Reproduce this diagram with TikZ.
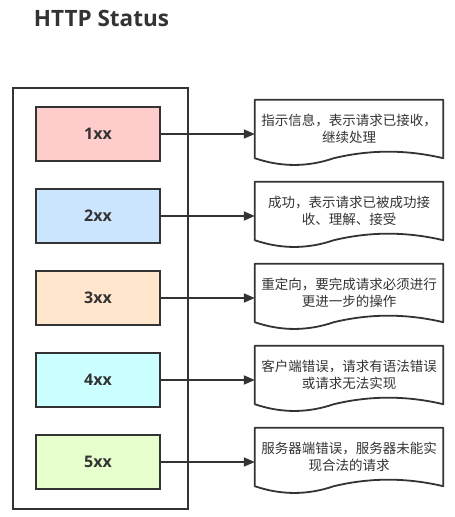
\documentclass[tikz,border=0pt]{standalone}
\usepackage{fontspec}
\setmainfont{Open Sans}
\newfontfamily\cjk{Noto Sans CJK SC}
\usetikzlibrary{arrows.meta,calc}
\definecolor{ln}{HTML}{333333}
\definecolor{c1}{HTML}{FFCCCC}
\definecolor{c2}{HTML}{CCE5FF}
\definecolor{c3}{HTML}{FFE6CC}
\definecolor{c4}{HTML}{CCFFFF}
\definecolor{c5}{HTML}{E6FFCC}
\tikzset{
  codebox/.style={draw=ln, line width=1.8pt, minimum width=124pt, minimum height=54pt,
    inner sep=0pt, text=ln, font=\bfseries\fontsize{16}{19}\selectfont},
  doctext/.style={minimum width=188pt, minimum height=58pt, inner sep=0pt, align=center,
    text=ln, font=\cjk\fontsize{13.5}{17}\selectfont},
  docline/.style={draw=ln, line width=1.8pt, line join=round},
  arr/.style={draw=ln, line width=1.8pt, -{Triangle[length=11pt,width=9pt]}},
  outerbox/.style={draw=ln, line width=1.8pt, minimum width=175pt, minimum height=421pt, inner sep=0pt},
}
\newcommand{\docshape}[1]{%
  \draw[docline] (#1.north west) -- (#1.north east) -- (#1.south east)
    .. controls ($(#1.south west)+(151.7,-8.7)$) and ($(#1.south west)+(115.3,-8.7)$) .. ($(#1.south west)+(79,0)$)
    .. controls ($(#1.south west)+(52.6,9)$) and ($(#1.south west)+(26.3,9)$) .. (#1.south west) -- cycle;}
\begin{document}
\begin{tikzpicture}[x=1pt,y=-1pt]
\useasboundingbox (0,0) rectangle (455,517);
\node[text=ln, font=\bfseries\fontsize{22.5}{26}\selectfont] (title) at (101.5,18) {HTTP Status};
\node[outerbox] (outer) at (100.5,298.5) {};
\foreach \i/\lab/\col/\txt in {
  1/1xx/c1/{指示信息，表示请求已接收，\\继续处理},
  2/2xx/c2/{成功，表示请求已被成功接\\收、理解、接受},
  3/3xx/c3/{重定向，要完成请求必须进行\\更进一步的操作},
  4/4xx/c4/{客户端错误，请求有语法错误\\或请求无法实现},
  5/5xx/c5/{服务器端错误，服务器未能实\\现合法的请求}} {
  \pgfmathsetmacro{\top}{100+82*(\i-1)}
  \node[codebox, fill=\col] (b\i) at (98,\top+34) {\lab};
  \node[doctext] (d\i) at (349,\top+29) {\txt};
  \docshape{d\i}
  \draw[arr] (b\i.east) -- (b\i.east -| d\i.west);
}
\end{tikzpicture}
\end{document}
